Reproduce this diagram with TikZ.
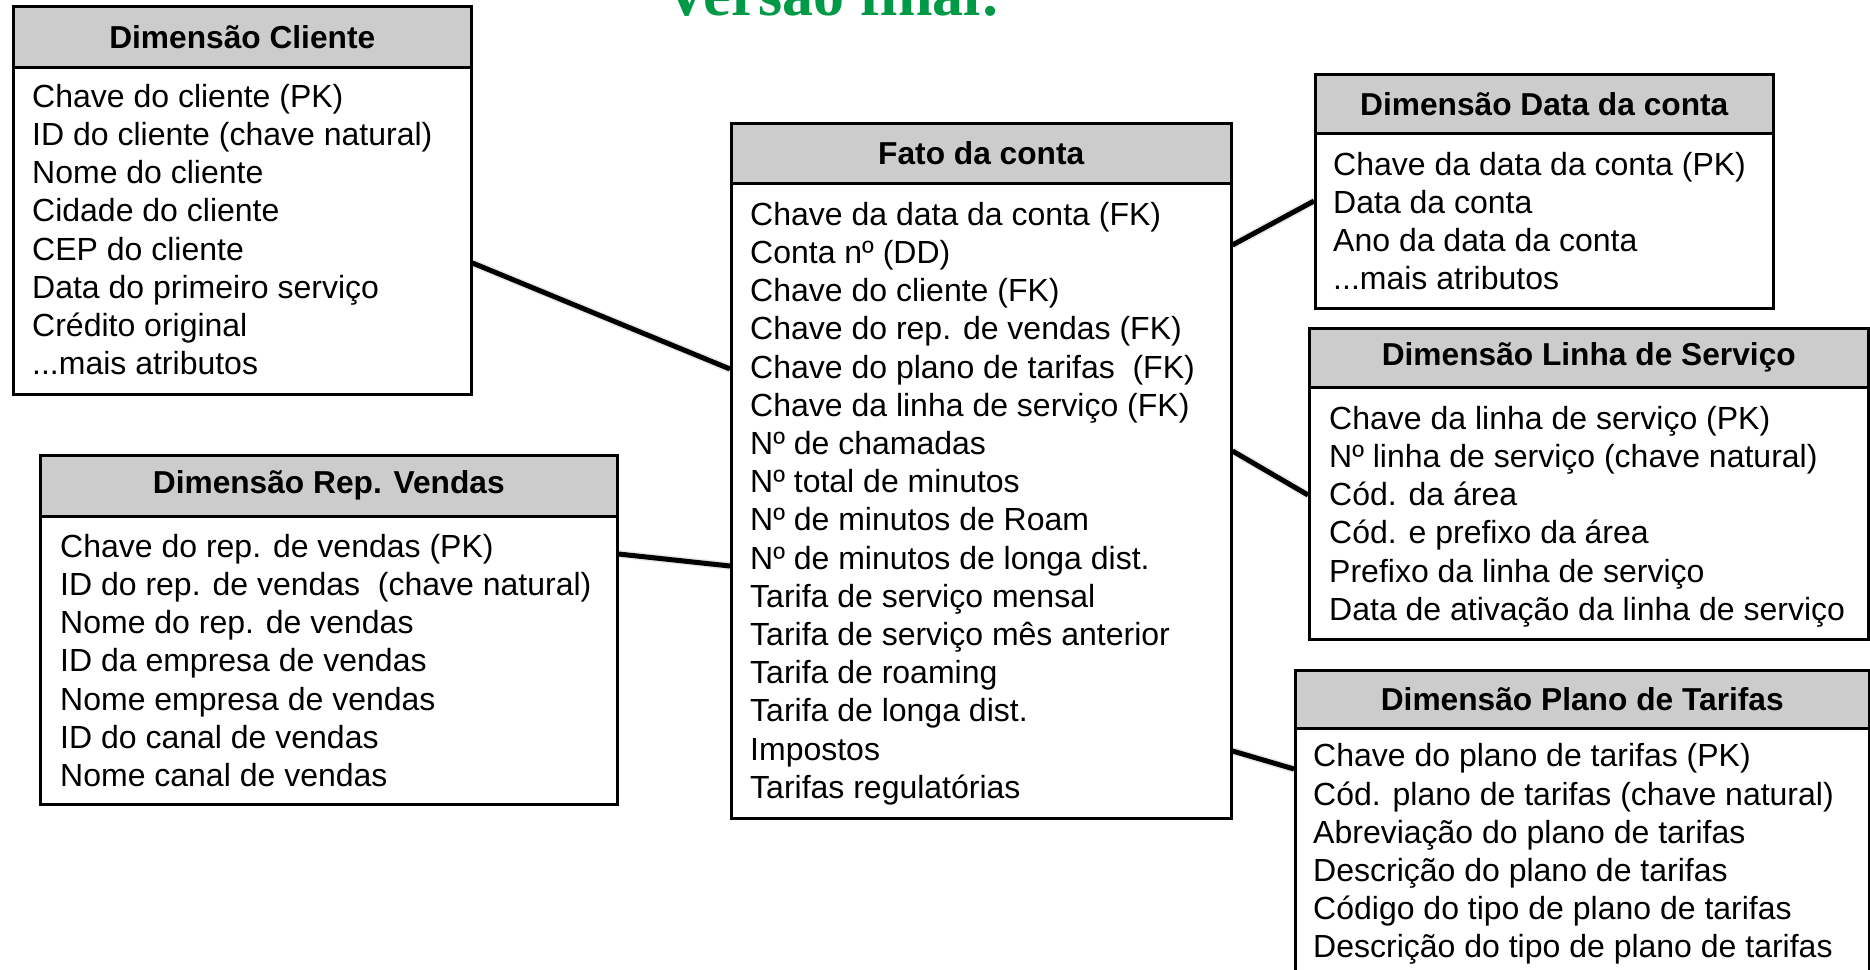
\documentclass[tikz,border=0pt]{standalone}
\usepackage{fontspec}
\setmainfont{Liberation Sans}
\newfontfamily\titleserif{Liberation Serif}
\usetikzlibrary{calc,backgrounds}

\definecolor{headgray}{HTML}{CCCCCC}
\definecolor{titlegreen}{RGB}{0,153,70}

\tikzset{
  boxhead/.style={draw, line width=2.5pt, fill=headgray, anchor=north west,
    inner sep=0pt, font={\fontsize{31.7}{38}\selectfont\bfseries}},
  boxbody/.style={draw, line width=2.5pt, fill=white, anchor=north west, inner sep=0pt},
  boxtext/.style={anchor=north west, inner sep=0pt, align=left,
    font={\fontsize{32}{38.2}\selectfont}},
  link/.style={line width=5pt},
  linkshade/.style={line width=8pt, black!9, shift={(1.5,3)}},
}
\newcommand{\firstline}{\rule{0pt}{24pt}}

\begin{document}
\begin{tikzpicture}[x=1pt, y=-1pt]
\useasboundingbox (0,0) rectangle (1870,969);
\clip (0,0) rectangle (1870,969);

% title, partly cut by the top edge
\node[anchor=base, inner sep=0pt, text=titlegreen,
      font={\titleserif\fontsize{62}{64}\selectfont\bfseries}] (title) at (833,15) {Versão final:};

% Dimensão Cliente
\node[boxhead, minimum width=458pt, minimum height=61pt] (cliH) at (12,5) {Dimensão Cliente};
\node[boxbody, minimum width=458pt, minimum height=327pt] (cliB) at (12,66) {};
\node[boxtext] (cliT) at (32,83) {\firstline Chave do cliente (PK)\\ID do cliente (chave natural)\\Nome do cliente\\Cidade do cliente\\CEP do cliente\\Data do primeiro serviço\\Crédito original\\...mais atributos};

% Dimensão Rep. Vendas
\node[boxhead, minimum width=577pt, minimum height=61pt] (repH) at (39,454) {Dimensão Rep. Vendas};
\node[boxbody, minimum width=577pt, minimum height=288pt] (repB) at (39,515) {};
\node[boxtext] (repT) at (60,533) {\firstline Chave do rep. de vendas (PK)\\ID do rep. de vendas~ (chave natural)\\Nome do rep. de vendas\\ID da empresa de vendas\\Nome empresa de vendas\\ID do canal de vendas\\Nome canal de vendas};

% Fato da conta
\node[boxhead, minimum width=500pt, minimum height=60pt] (fatH) at (730,122) {Fato da conta};
\node[boxbody, minimum width=500pt, minimum height=635pt] (fatB) at (730,182) {};
\node[boxtext] (fatT) at (750,201) {\firstline Chave da data da conta (FK)\\Conta nº (DD)\\Chave do cliente (FK)\\Chave do rep. de vendas (FK)\\Chave do plano de tarifas~ (FK)\\Chave da linha de serviço (FK)\\Nº de chamadas\\Nº total de minutos\\Nº de minutos de Roam\\Nº de minutos de longa dist.\\Tarifa de serviço mensal\\Tarifa de serviço mês anterior\\Tarifa de roaming\\Tarifa de longa dist.\\Impostos\\Tarifas regulatórias};

% Dimensão Data da conta
\node[boxhead, minimum width=458pt, minimum height=59pt] (datH) at (1314,73) {Dimensão Data da conta};
\node[boxbody, minimum width=458pt, minimum height=175pt] (datB) at (1314,132) {};
\node[boxtext] (datT) at (1333,151) {\firstline Chave da data da conta (PK)\\Data da conta\\Ano da data da conta\\...mais atributos};

% Dimensão Linha de Serviço
\node[boxhead, minimum width=559pt, minimum height=59pt] (linH) at (1308,327) {Dimensão Linha de Serviço};
\node[boxbody, minimum width=559pt, minimum height=252pt] (linB) at (1308,386) {};
\node[boxtext] (linT) at (1329,405) {\firstline Chave da linha de serviço (PK)\\Nº linha de serviço (chave natural)\\Cód. da área\\Cód. e prefixo da área\\Prefixo da linha de serviço\\Data de ativação da linha de serviço};

% Dimensão Plano de Tarifas (runs past the lower edge)
\node[boxhead, minimum width=574pt, minimum height=58pt] (plaH) at (1294,669) {Dimensão Plano de Tarifas};
\node[boxbody, minimum width=574pt, minimum height=300pt] (plaB) at (1294,727) {};
\node[boxtext] (plaT) at (1313,742.6) {\firstline Chave do plano de tarifas (PK)\\Cód. plano de tarifas (chave natural)\\Abreviação do plano de tarifas\\Descrição do plano de tarifas\\Código do tipo de plano de tarifas\\Descrição do tipo de plano de tarifas};

% connectors between the fact table and its dimensions
\begin{scope}[on background layer]
  \coordinate (c1a) at ($(cliB.north east)+(0,197)$);
  \coordinate (c1b) at ($(fatB.north west)+(0,187)$);
  \coordinate (c2a) at ($(repB.north east)+(0,39)$);
  \coordinate (c2b) at ($(fatB.north west)+(0,384)$);
  \coordinate (c3a) at ($(fatB.north east)+(0,63)$);
  \coordinate (c3b) at ($(datB.north west)+(0,69)$);
  \coordinate (c4a) at ($(fatB.north east)+(0,269)$);
  \coordinate (c4b) at ($(linB.north west)+(0,109)$);
  \coordinate (c5a) at ($(fatB.north east)+(0,569)$);
  \coordinate (c5b) at ($(plaB.north west)+(0,42)$);
  \foreach \a/\b in {c1a/c1b, c2a/c2b, c3a/c3b, c4a/c4b, c5a/c5b} {
    \draw[linkshade] (\a) -- (\b);
    \draw[link] (\a) -- (\b);
  }
\end{scope}
\end{tikzpicture}
\end{document}
